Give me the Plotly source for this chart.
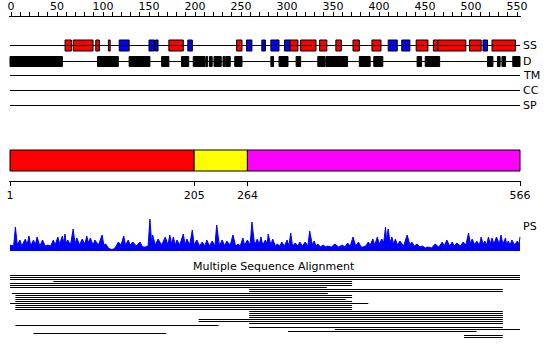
import plotly.graph_objects as go

W, H = 550, 359
SEQ_LEN = 566

# ---------------- data ----------------
ruler_ticks = list(range(0, 551, 50))
domain_ticks = [1, 205, 264, 566]

track_names = ["SS", "D", "TM", "CC", "SP"]

# secondary structure elements (H = helix, E = strand)
ss_start = [62, 71, 96, 110, 122, 155, 162, 177, 198, 252, 263, 280, 290, 305, 311, 323, 344, 362,
            381, 402, 420, 435, 451, 470, 475, 510, 525, 535]
ss_end = [69, 93, 100, 112, 133, 161, 165, 193, 203, 258, 269, 284, 299, 311, 320, 340, 352, 368,
          388, 412, 430, 444, 464, 475, 506, 523, 530, 561]
ss_type = ["H", "H", "H", "H", "E", "E", "E", "H", "E", "H", "E", "E", "E", "E", "H", "H", "H", "H",
           "H", "H", "E", "E", "H", "H", "H", "H", "E", "H"]

# disordered regions
dis_start = [1, 98, 133, 169, 191, 204, 218, 222, 227, 237, 240, 250, 290, 299, 318, 342, 351, 388,
             404, 452, 461, 530, 541, 546, 558]
dis_end = [59, 121, 156, 177, 199, 217, 220, 225, 235, 239, 245, 258, 293, 309, 323, 350, 375, 400,
           414, 457, 477, 536, 544, 550, 566]

# domains
domain_start = [1, 205, 264]
domain_end = [205, 264, 566]
domain_color = ["#ff0000", "#ffff00", "#ff00ff"]

# PS profile (residue, score)
ps_profile = [
    (1, 6), (5, 5), (7, 24), (9, 6), (12, 11), (14, 5), (18, 12), (20, 6), (22, 15), (24, 5),
    (27, 11), (29, 6), (31, 14), (34, 5), (37, 11), (40, 5), (43, 6), (46, 5), (49, 11), (51, 6),
    (54, 14), (56, 7), (59, 15), (60, 8), (62, 17), (63, 8), (65, 11), (68, 6), (71, 22), (73, 7),
    (75, 13), (78, 6), (81, 12), (84, 7), (86, 15), (88, 8), (90, 13), (93, 6), (95, 11), (99, 6),
    (103, 16), (105, 6), (107, 7), (110, 3), (113, 1.5), (116, 2), (118, 4), (121, 9), (124, 6),
    (127, 15), (129, 6), (132, 11), (134, 6), (137, 9), (141, 5), (145, 9), (148, 4), (151, 4),
    (154, 5), (156, 32), (158, 7), (159, 16), (162, 6), (165, 12), (169, 6), (173, 14), (176, 6),
    (178, 16), (180, 7), (182, 14), (184, 6), (186, 11), (189, 6), (193, 17), (195, 6), (197, 12),
    (200, 6), (203, 21), (205, 6), (208, 11), (211, 5), (214, 9), (217, 5), (219, 11), (222, 5),
    (225, 10), (228, 5), (230, 26), (233, 5), (236, 11), (239, 5), (241, 10), (245, 6), (248, 16),
    (251, 5), (254, 7), (256, 5), (259, 13), (261, 6), (264, 11), (267, 6), (269, 29), (272, 6),
    (275, 12), (277, 6), (279, 14), (281, 6), (284, 11), (286, 7), (287, 17), (290, 6), (292, 12),
    (295, 5), (297, 7), (300, 5), (302, 9), (305, 5), (308, 11), (310, 5), (312, 18), (314, 5),
    (317, 8), (320, 5), (322, 9), (325, 5), (328, 9), (331, 5), (333, 20), (336, 6), (338, 10),
    (340, 5), (342, 7), (345, 4), (348, 6), (351, 4), (353, 5), (357, 4), (361, 7), (365, 4),
    (369, 6), (372, 4), (375, 8), (378, 5), (381, 14), (384, 5), (387, 9), (390, 4), (392, 4),
    (395, 5), (398, 9), (400, 6), (403, 12), (405, 6), (408, 14), (410, 7), (413, 12), (415, 8),
    (417, 24), (418, 12), (420, 22), (422, 8), (424, 14), (426, 7), (428, 12), (430, 6), (433, 10),
    (437, 5), (441, 16), (444, 6), (446, 9), (449, 5), (452, 7), (455, 4), (458, 5), (461, 3),
    (464, 4), (468, 3), (472, 7), (476, 4), (480, 9), (482, 5), (485, 11), (488, 5), (491, 9),
    (493, 5), (496, 8), (500, 5), (503, 9), (506, 6), (509, 18), (511, 7), (513, 12), (516, 6),
    (518, 10), (521, 6), (523, 14), (525, 7), (527, 10), (529, 6), (531, 14), (533, 7), (535, 13),
    (537, 7), (540, 14), (543, 7), (545, 16), (547, 7), (550, 13), (551, 7), (553, 10), (555, 6),
    (557, 11), (560, 6), (563, 10), (565, 7), (566, 14),
]

# multiple sequence alignment hits, top to bottom (residue start, end)
msa_start = [1, 1, 1, 49, 1, 1, 1, 266, 266, 3, 7, 7, 7, 7, 1, 7, 7, 7,
             266, 266, 266, 266, 210, 210, 266, 7, 266, 361, 309, 27, 504, 504]
msa_end = [566, 566, 566, 380, 380, 380, 352, 547, 547, 353, 380, 380, 373, 380, 398, 380, 380, 380,
           547, 547, 547, 547, 547, 547, 547, 232, 547, 566, 518, 174, 547, 547]

# ---------------- layout helpers ----------------
def paper_y(px):
    return 1 - px / H

XD = [9 / W, 521 / W]
trk_scale = 510 / (SEQ_LEN - 1)          # px per residue for tracks
trk_range = [1 - 1 / trk_scale, SEQ_LEN + 1 / trk_scale]
rul_scale = 0.92
rul_range = [-2 / rul_scale, 510 / rul_scale]

track_y = {"SS": 45.5, "D": 61.5, "TM": 75.5, "CC": 90.5, "SP": 105.5}

fig = go.Figure()

# dummy traces so the ruler and domain-scale axes get subplots
fig.add_trace(go.Scatter(x=ruler_ticks, y=[None] * len(ruler_ticks), xaxis="x", yaxis="y",
                         mode="lines", hoverinfo="skip"))
fig.add_trace(go.Scatter(x=domain_ticks, y=[None] * len(domain_ticks), xaxis="x3", yaxis="y",
                         mode="lines", hoverinfo="skip"))

# track base lines
lx, ly = [], []
for name in track_names:
    lx += [1, SEQ_LEN, None]
    ly += [track_y[name], track_y[name], None]
fig.add_trace(go.Scatter(x=lx, y=ly, mode="lines", line=dict(color="black", width=1),
                         xaxis="x2", yaxis="y", hoverinfo="skip"))

# secondary structure
for kind, col in (("H", "#ff0000"), ("E", "#0000ff")):
    idx = [i for i, t in enumerate(ss_type) if t == kind]
    fig.add_trace(go.Bar(
        orientation="h",
        base=[ss_start[i] for i in idx],
        x=[ss_end[i] - ss_start[i] for i in idx],
        y=[track_y["SS"]] * len(idx),
        width=11,
        marker=dict(color=col, line=dict(color="black", width=1)),
        xaxis="x2", yaxis="y", hoverinfo="skip"))

# disorder
fig.add_trace(go.Bar(
    orientation="h",
    base=dis_start,
    x=[e - s for s, e in zip(dis_start, dis_end)],
    y=[track_y["D"]] * len(dis_start),
    width=10,
    marker=dict(color="black", line=dict(color="black", width=1)),
    xaxis="x2", yaxis="y", hoverinfo="skip"))

# domains
fig.add_trace(go.Bar(
    orientation="h",
    base=domain_start,
    x=[e - s for s, e in zip(domain_start, domain_end)],
    y=[160.5] * len(domain_start),
    width=21,
    marker=dict(color=domain_color, line=dict(color="black", width=1)),
    xaxis="x2", yaxis="y", hoverinfo="skip"))

# PS profile
fig.add_trace(go.Scatter(
    x=[p[0] for p in ps_profile], y=[p[1] for p in ps_profile],
    mode="lines", fill="tozeroy", fillcolor="#0000ff",
    line=dict(color="#0000ff", width=1),
    xaxis="x2", yaxis="y2", hoverinfo="skip"))

# MSA
mx, my = [], []
for i, (s, e) in enumerate(zip(msa_start, msa_end)):
    mx += [s, e, None]
    my += [i, i, None]
fig.add_trace(go.Scatter(x=mx, y=my, mode="lines", line=dict(color="black", width=1),
                         xaxis="x2", yaxis="y3", hoverinfo="skip"))

# labels
annotations = []
for name in track_names:
    annotations.append(dict(text=name, x=521 / W, xref="paper", y=track_y[name], yref="y",
                            xanchor="left", yanchor="middle", showarrow=False))
annotations.append(dict(text="PS", x=521 / W, xref="paper", y=226, yref="y",
                        xanchor="left", yanchor="middle", showarrow=False))
annotations.append(dict(text="Multiple Sequence Alignment", x=274 / W, xref="paper", y=266,
                        yref="y", xanchor="center", yanchor="middle", showarrow=False))

axis_common = dict(showline=True, linecolor="black", linewidth=1, ticks="outside", ticklen=4,
                   tickwidth=1, tickcolor="black", showgrid=False, zeroline=False,
                   tickmode="array", fixedrange=True, automargin=False)
hidden = dict(visible=False, fixedrange=True, automargin=False, showgrid=False, zeroline=False)

fig.update_layout(
    template="none",
    width=W, height=H, autosize=False,
    margin=dict(l=0, r=0, t=0, b=0, pad=0),
    paper_bgcolor="white", plot_bgcolor="rgba(0,0,0,0)",
    showlegend=False, barmode="overlay", hovermode=False,
    font=dict(family="DejaVu Sans", size=11, color="black"),
    xaxis=dict(domain=XD, range=rul_range, anchor="free", position=paper_y(15.5), side="top",
               tickvals=ruler_ticks, ticklabelstandoff=-3,
               minor=dict(ticks="outside", ticklen=4, tickwidth=1, tickcolor="black",
                          dtick=10, tick0=0, showgrid=False),
               **axis_common),
    xaxis2=dict(domain=XD, range=trk_range, anchor="y", **hidden),
    xaxis3=dict(domain=XD, range=trk_range, anchor="free", position=paper_y(180.5), side="bottom",
                tickvals=domain_ticks, ticktext=[str(t) for t in domain_ticks], **axis_common),
    yaxis=dict(domain=[0, 1], range=[H, 0], anchor="x2", **hidden),
    yaxis2=dict(domain=[paper_y(251), paper_y(218)], range=[0, 33], anchor="x2", **hidden),
    yaxis3=dict(domain=[paper_y(338.5), paper_y(274.5)], range=[len(msa_start) - 0.5, -0.5],
                anchor="x2", **hidden),
    annotations=annotations,
)

page_css = ("var s=document.createElement('style');"
            "s.innerHTML='html,body{margin:0;padding:0;overflow:hidden;}';"
            "document.head.appendChild(s);")
fig.write_html("out.html", config={"displayModeBar": False, "staticPlot": True},
               post_script=page_css)
